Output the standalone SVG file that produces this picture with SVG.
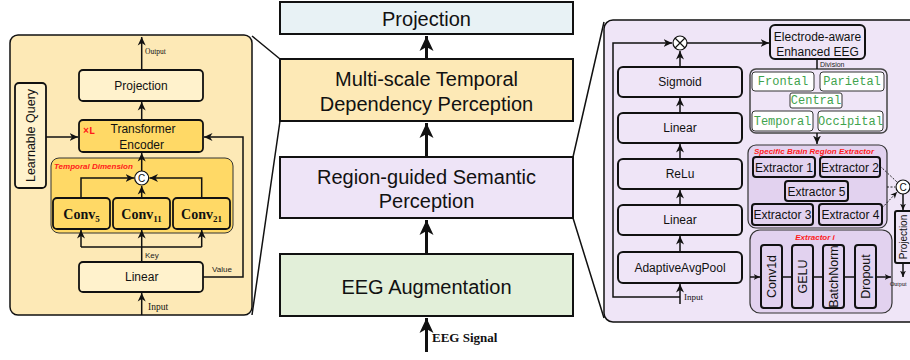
<svg xmlns="http://www.w3.org/2000/svg" width="910" height="360" viewBox="0 0 910 360">
<style>
.t{font-family:"Liberation Sans",Arial,sans-serif;text-anchor:middle;dominant-baseline:central;fill:#111}
.s{font-family:"Liberation Serif","Times New Roman",serif;fill:#111}
.m{font-family:"Liberation Mono","DejaVu Sans Mono",monospace;text-anchor:middle;dominant-baseline:central;fill:#3fa34d;font-size:12px}
.red{font-family:"Liberation Sans",Arial,sans-serif;font-style:italic;font-weight:bold;fill:#ff1a1a;font-size:8px}
.mid{stroke:#111;stroke-width:2}
.bx{stroke:#111;stroke-width:1.8}
.rb{fill:#efe5f7;stroke:#111;stroke-width:2}
.eb{fill:#e2d2ef;stroke:#111;stroke-width:2}
.c{fill:none;stroke:#111;stroke-width:1.5}
.cb{fill:none;stroke:#111;stroke-width:3}
</style>
<defs>
<marker id="big" markerUnits="userSpaceOnUse" markerWidth="16" markerHeight="16" viewBox="0 0 16 16" refX="15" refY="8" orient="auto">
<path d="M0,1 L15,8 L0,15 L4,8 z" fill="#111"/>
</marker>
<marker id="sm" markerUnits="userSpaceOnUse" markerWidth="9" markerHeight="9" viewBox="0 0 9 9" refX="8.5" refY="4.5" orient="auto">
<path d="M0,0.5 L8.5,4.5 L0,8.5 L2.5,4.5 z" fill="#111"/>
</marker>
<marker id="ti" markerUnits="userSpaceOnUse" markerWidth="7" markerHeight="7" viewBox="0 0 7 7" refX="6.5" refY="3.5" orient="auto">
<path d="M0,0.5 L6.5,3.5 L0,6.5 L2,3.5 z" fill="#111"/>
</marker>
</defs>
<rect width="910" height="360" fill="#fff"/>

<!-- Middle column -->
<g id="mid-projection">
<rect class="mid" x="280" y="2" width="293" height="32" fill="#e8f2f5"/>
<text class="t" x="426.5" y="19" font-size="20">Projection</text>
</g>
<g id="mid-multiscale">
<rect class="mid" x="280" y="59" width="293" height="62" fill="#fde9b6"/>
<text class="t" x="426.5" y="79" font-size="20">Multi-scale Temporal</text>
<text class="t" x="426.5" y="103.5" font-size="20">Dependency Perception</text>
</g>
<g id="mid-region">
<rect class="mid" x="280" y="157" width="293" height="61" fill="#eee4f7"/>
<text class="t" x="426.5" y="177" font-size="20">Region-guided Semantic</text>
<text class="t" x="426.5" y="201" font-size="20">Perception</text>
</g>
<g id="mid-aug">
<rect class="mid" x="280" y="254" width="293" height="62" fill="#e2efd9"/>
<text class="t" x="426.5" y="286.5" font-size="20">EEG Augmentation</text>
</g>

<!-- Left panel -->
<g id="left-panel">
<rect x="10" y="35" width="242" height="280" rx="8" fill="#fde9b6" stroke="#111" stroke-width="1.5"/>
</g>
<g id="l-projection">
<rect class="bx" x="79" y="70" width="124" height="31" rx="4" fill="#fff2cc"/>
<text class="t" x="141" y="86" font-size="12">Projection</text>
</g>
<g id="l-transformer">
<rect class="bx" x="79" y="120" width="124" height="32" rx="4" fill="#ffd966"/>
<text x="83" y="133.5" font-family="'Liberation Mono','DejaVu Sans Mono',monospace" font-weight="bold" font-size="10" fill="#ff1a1a">×L</text>
<text class="t" x="143" y="129" font-size="12">Transformer</text>
<text class="t" x="141.7" y="145" font-size="12">Encoder</text>
</g>
<g id="l-query">
<rect class="bx" x="15" y="83" width="31" height="105" rx="4" fill="#fff2cc"/>
<text class="t" x="31" y="135.5" font-size="12.5" transform="rotate(-90 31 135.5)">Learnable Query</text>
</g>
<g id="l-temporal">
<rect x="51" y="158" width="182" height="75" rx="8" fill="#ffd966" stroke="#333" stroke-width="1"/>
<text class="red" x="54" y="168.5">Temporal Dimension</text>
</g>
<g id="l-conv5">
<rect class="bx" x="53" y="198" width="57" height="31" rx="4" fill="#ffd966"/>
<text class="s" x="81.5" y="218.5" font-size="14" font-weight="bold" text-anchor="middle">Conv<tspan font-size="9" dy="3">5</tspan></text>
</g>
<g id="l-conv11">
<rect class="bx" x="113" y="198" width="57" height="31" rx="4" fill="#ffd966"/>
<text class="s" x="141.5" y="218.5" font-size="14" font-weight="bold" text-anchor="middle">Conv<tspan font-size="9" dy="3">11</tspan></text>
</g>
<g id="l-conv21">
<rect class="bx" x="173" y="198" width="57" height="31" rx="4" fill="#ffd966"/>
<text class="s" x="201.5" y="218.5" font-size="14" font-weight="bold" text-anchor="middle">Conv<tspan font-size="9" dy="3">21</tspan></text>
</g>
<g id="l-concat">
<circle cx="141.7" cy="178" r="7" fill="#fff" stroke="#111" stroke-width="1.2"/>
<text class="t" x="141.7" y="178.5" font-size="10">C</text>
</g>
<g id="l-linear">
<rect class="bx" x="79" y="262" width="124" height="30" rx="4" fill="#fff2cc"/>
<text class="t" x="141.7" y="277" font-size="12">Linear</text>
</g>

<!-- Right panel -->
<g id="right-panel">
<rect x="604" y="20" width="330" height="302" rx="9" fill="#efe5f7" stroke="#111" stroke-width="1.5"/>
</g>
<g id="r-sigmoid"><rect class="rb" x="618" y="67" width="124" height="30" rx="5"/><text class="t" x="680" y="82" font-size="12">Sigmoid</text></g>
<g id="r-linear1"><rect class="rb" x="618" y="113" width="124" height="30" rx="5"/><text class="t" x="680" y="128" font-size="12">Linear</text></g>
<g id="r-relu"><rect class="rb" x="618" y="159" width="124" height="30" rx="5"/><text class="t" x="680" y="174" font-size="12">ReLu</text></g>
<g id="r-linear2"><rect class="rb" x="618" y="205" width="124" height="30" rx="5"/><text class="t" x="680" y="220" font-size="12">Linear</text></g>
<g id="r-pool"><rect class="rb" x="618" y="252" width="124" height="31" rx="5"/><text class="t" x="680" y="267.5" font-size="12">AdaptiveAvgPool</text></g>
<g id="r-mult">
<circle cx="680" cy="43" r="7" fill="#fff" stroke="#111" stroke-width="1.2"/>
<path d="M675,38 L685,48 M685,38 L675,48" stroke="#111" stroke-width="1.2"/>
</g>
<g id="r-electrode">
<rect class="rb" x="770" y="25" width="95" height="34" rx="5"/>
<text class="t" x="817.5" y="36.5" font-size="12">Electrode-aware</text>
<text class="t" x="817.5" y="51.5" font-size="12">Enhanced EEG</text>
</g>
<g id="r-regions">
<rect x="750" y="69" width="137" height="64" rx="6" fill="#efe5f7" stroke="#444" stroke-width="1.5"/>
<rect x="752" y="72" width="62" height="19" rx="3" fill="#fff" stroke="#333" stroke-width="1"/>
<text class="m" x="783" y="82">Frontal</text>
<rect x="820" y="72" width="64" height="19" rx="3" fill="#fff" stroke="#333" stroke-width="1"/>
<text class="m" x="852" y="82">Parietal</text>
<rect x="790" y="93" width="52" height="15" rx="2" fill="#fff" stroke="#333" stroke-width="1"/>
<text class="m" x="816" y="101">Central</text>
<rect x="752" y="111" width="61" height="20" rx="3" fill="#fff" stroke="#333" stroke-width="1"/>
<text class="m" x="782.5" y="121.5">Temporal</text>
<rect x="818" y="111" width="65" height="20" rx="3" fill="#fff" stroke="#333" stroke-width="1"/>
<text class="m" x="850.5" y="121.5">Occipital</text>
</g>
<g id="r-sbre">
<rect x="748" y="145" width="139" height="83" rx="8" fill="#e2d2ef" stroke="#333" stroke-width="1.2"/>
<text class="red" x="754" y="154">Specific Brain Region Extractor</text>
</g>
<g id="r-ext1"><rect class="eb" x="753" y="157" width="62" height="20" rx="3"/><text class="t" x="784" y="167.5" font-size="12">Extractor 1</text></g>
<g id="r-ext2"><rect class="eb" x="820" y="157" width="60" height="20" rx="3"/><text class="t" x="850" y="167.5" font-size="12">Extractor 2</text></g>
<g id="r-ext5"><rect class="eb" x="785" y="181" width="63" height="20" rx="3"/><text class="t" x="816.5" y="191.5" font-size="12">Extractor 5</text></g>
<g id="r-ext3"><rect class="eb" x="752" y="204" width="61" height="21" rx="3"/><text class="t" x="782.5" y="215" font-size="12">Extractor 3</text></g>
<g id="r-ext4"><rect class="eb" x="819" y="204" width="63" height="21" rx="3"/><text class="t" x="850.5" y="215" font-size="12">Extractor 4</text></g>
<g id="r-concat">
<circle cx="903" cy="187" r="7" fill="#fff" stroke="#111" stroke-width="1.2"/>
<text class="t" x="903" y="187.5" font-size="10">C</text>
</g>
<g id="r-projection">
<rect class="rb" x="895" y="211" width="22" height="52" rx="2"/>
<text class="t" x="903.5" y="237" font-size="10" transform="rotate(-90 903.5 237)">Projection</text>
</g>
<g id="r-exti">
<rect x="750" y="230" width="142" height="83" rx="10" fill="#e2d2ef" stroke="#333" stroke-width="1.2"/>
<text class="red" x="815" y="240" text-anchor="middle" font-size="8.5">Extractor i</text>
</g>
<g id="r-conv1d"><rect class="eb" x="761" y="245" width="21" height="63" rx="3"/><text class="t" x="771.5" y="276.5" font-size="12.5" transform="rotate(-90 771.5 276.5)">Conv1d</text></g>
<g id="r-gelu"><rect class="eb" x="792" y="245" width="21" height="63" rx="3"/><text class="t" x="802.5" y="276.5" font-size="12.5" transform="rotate(-90 802.5 276.5)">GELU</text></g>
<g id="r-bn"><rect class="eb" x="823" y="245" width="21" height="63" rx="3"/><text class="t" x="833.5" y="276.5" font-size="12.5" transform="rotate(-90 833.5 276.5)">BatchNorm</text></g>
<g id="r-dropout"><rect class="eb" x="855" y="245" width="21" height="63" rx="3"/><text class="t" x="865.5" y="276.5" font-size="12.5" transform="rotate(-90 865.5 276.5)">Dropout</text></g>

<!-- Connectors -->
<g id="connectors">
<path class="cb" d="M426.5,59 V36" marker-end="url(#big)"/>
<path class="cb" d="M426.5,157 V123" marker-end="url(#big)"/>
<path class="cb" d="M426.5,254 V220" marker-end="url(#big)"/>
<path class="cb" d="M426.5,352 V318" marker-end="url(#big)"/>
<path class="c" d="M252,36 L280,59 M280,121 L252,315 M573,157 L604,22 M573,218 L604,318"/>

<path class="c" d="M141.7,70 V37" marker-end="url(#sm)"/>
<path class="c" d="M141.7,120 V102" marker-end="url(#sm)"/>
<path class="c" d="M46,137 H78" marker-end="url(#sm)"/>
<path class="c" d="M141.7,171 V153" marker-end="url(#sm)"/>
<path class="c" d="M81,198 V178 H134" marker-end="url(#sm)"/>
<path class="c" d="M201.7,198 V178 H149.5" marker-end="url(#sm)"/>
<path class="c" d="M141.7,198 V186" marker-end="url(#sm)"/>
<path class="c" d="M141.7,262 V247 M81,247 H201.7"/>
<path class="c" d="M81,247 V230" marker-end="url(#sm)"/>
<path class="c" d="M141.7,247 V230" marker-end="url(#sm)"/>
<path class="c" d="M201.7,247 V230" marker-end="url(#sm)"/>
<path class="c" d="M203,277 H243 V137 H204" marker-end="url(#sm)"/>
<path class="c" d="M141.7,315 V293" marker-end="url(#sm)"/>

<path class="c" d="M680,297 H613 V43 H672" marker-end="url(#sm)"/>
<path class="c" d="M687,43 H769" marker-end="url(#sm)"/>
<path class="c" d="M680,304 V284" marker-end="url(#sm)"/>
<path class="c" d="M680,252 V236" marker-end="url(#sm)"/>
<path class="c" d="M680,205 V190" marker-end="url(#sm)"/>
<path class="c" d="M680,159 V144" marker-end="url(#sm)"/>
<path class="c" d="M680,113 V98" marker-end="url(#sm)"/>
<path class="c" d="M680,67 V51" marker-end="url(#sm)"/>
<path class="c" d="M817,59 V69"/>
<path class="c" d="M817,133 V144" marker-end="url(#sm)"/>
<path d="M880,166 L897,182 M887,187 H895 M882,208 L897,192" fill="none" stroke="#111" stroke-width="0.9" stroke-dasharray="2,1.5" marker-end="url(#ti)"/>
<path class="c" d="M903,194 V210" marker-end="url(#ti)"/>
<path class="c" d="M903,263 V277" marker-end="url(#ti)"/>
<path class="c" d="M750,277 H760" marker-end="url(#ti)"/>
<path class="c" d="M782,277 H792 M813,277 H823 M844,277 H855"/>
<path class="c" d="M876,277 H891" marker-end="url(#ti)"/>
</g>

<!-- Labels -->
<text class="s" x="145" y="54" font-size="7.5">Output</text>
<text x="145" y="257.5" font-family="'Liberation Sans',Arial,sans-serif" font-size="8" fill="#222">Key</text>
<text x="212" y="272" font-family="'Liberation Sans',Arial,sans-serif" font-size="8" fill="#222">Value</text>
<text class="s" x="148" y="310" font-size="9.5">Input</text>
<text x="820" y="67" font-family="'Liberation Sans',Arial,sans-serif" font-size="7" fill="#222">Division</text>
<text class="s" x="684" y="300" font-size="9">Input</text>
<text class="s" x="890" y="286" font-size="6">Output</text>
<text class="s" x="432" y="342" font-size="13" font-weight="bold">EEG Signal</text>
</svg>
